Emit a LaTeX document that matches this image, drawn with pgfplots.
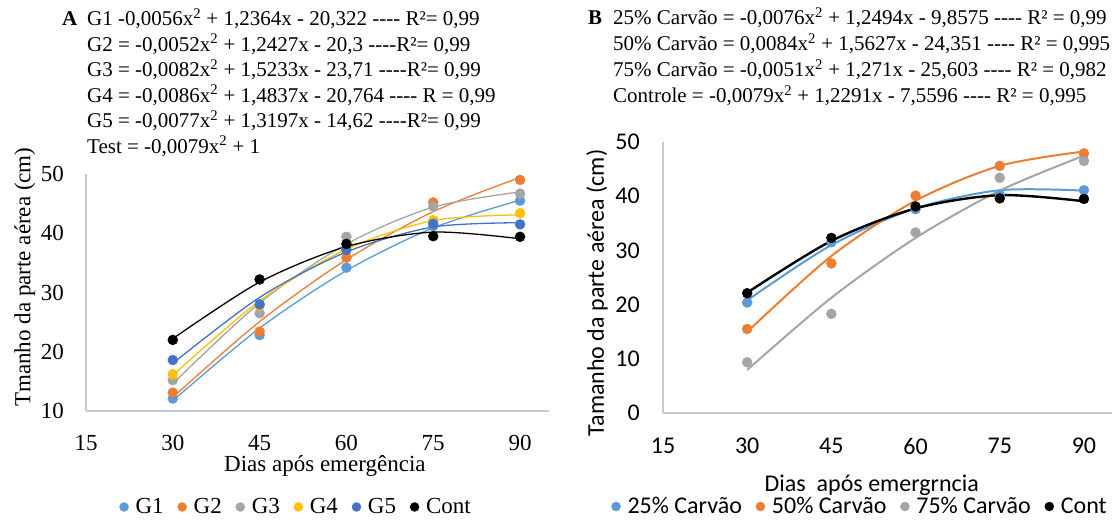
\documentclass[border=0pt]{standalone}
\usepackage{pgfplots}
\pgfplotsset{compat=1.18}
\usepackage{fontspec}
\setmainfont{Liberation Serif}
\newfontfamily\calibri{Carlito}
\definecolor{cA}{HTML}{5B9BD5}
\definecolor{cB}{HTML}{ED7D31}
\definecolor{cC}{HTML}{A5A5A5}
\definecolor{cD}{HTML}{FFC000}
\definecolor{cE}{HTML}{4472C4}
\definecolor{axc}{HTML}{C3CAD9}
\newcommand{\dd}{-{}-{}-{}-}
\newcommand{\sq}{\textsuperscript{2}}
\pgfplotsset{
  legimg/.style={legend image code/.code={\draw[##1, mark size=4.5pt] plot coordinates {(0pt,0pt)};}},
  pts/.style={only marks, mark=*, mark size=5pt, color=#1, mark options={draw=#1, fill=#1}},
  trend/.style={smooth, no marks, color=#1, line width=1.3pt, forget plot},
}
\begin{document}
\begin{tikzpicture}[x=1pt,y=1pt]
\useasboundingbox (0,0) rectangle (1119,521);
% ---------- equations A
\begin{scope}[every node/.style={anchor=base west, inner sep=0pt, font=\fontsize{21}{25}\selectfont}]
\node at (62,495) {\textbf{A}};
\node at (87,495) {G1 -0,0056x\sq{} + 1,2364x - 20,322 \dd{} R²= 0,99};
\node at (87,469.5) {G2 = -0,0052x\sq{} + 1,2427x - 20,3 \dd{}R²= 0,99};
\node at (87,444) {G3 = -0,0082x\sq{} + 1,5233x - 23,71 \dd{}R²= 0,99};
\node at (87,418.5) {G4 = -0,0086x\sq{} + 1,4837x - 20,764 \dd{} R = 0,99};
\node at (87,393) {G5 = -0,0077x\sq{} + 1,3197x - 14,62 \dd{}R²= 0,99};
\node at (87,367.5) {Test = -0,0079x\sq{} + 1};
% ---------- equations B
\node at (588,496) {\textbf{B}};
\node at (613,496) {25\% Carvão = -0,0076x\sq{} + 1,2494x - 9,8575 \dd{} R² = 0,99};
\node at (613,470) {50\% Carvão = 0,0084x\sq{} + 1,5627x - 24,351 \dd{} R² = 0,995};
\node at (613,444) {75\% Carvão = -0,0051x\sq{} + 1,271x - 25,603 \dd{} R² = 0,982};
\node at (613,418) {Controle = -0,0079x\sq{} + 1,2291x - 7,5596 \dd{} R² = 0,995};
\end{scope}
% ================= Panel A
\begin{axis}[
  at={(86pt,110pt)}, anchor=south west, scale only axis,
  width=463pt, height=237pt,
  xmin=15, xmax=95, ymin=10, ymax=50,
  xtick={15,30,45,60,75,90}, ytick={10,20,30,40,50},
  axis x line*=bottom, axis y line*=left,
  axis line style={draw=axc, line width=1.2pt},
  major tick length=0pt,
  /pgf/number format/assume math mode=true,
  tick label style={font=\fontsize{23}{27}\selectfont},
  yticklabel style={inner sep=0pt, xshift=-22pt},
  xticklabel style={inner sep=0pt, yshift=-24pt},
  xlabel={Dias após emergência},
  xlabel style={at={(axis description cs:0.516,0)}, anchor=center, yshift=-55pt, font=\fontsize{23}{27}\selectfont},
  ylabel={Tmanho da parte aérea (cm)},
  ylabel style={at={(axis description cs:-0.132,0.565)}, anchor=center, font=\fontsize{23}{27}\selectfont},
  legimg,
  legend columns=-1,
  legend style={at={(axis description cs:0.454,-0.405)}, anchor=center, draw=none, fill=none,
    font=\fontsize{23}{27}\selectfont, inner sep=0pt,
    /tikz/every odd column/.append style={column sep=5pt},
    /tikz/every even column/.append style={column sep=12pt},
    nodes={inner sep=2pt}},
  clip=false,
]
\addplot[pts=cA] coordinates {(30,12.1)(45,22.8)(60,34.2)(75,41.2)(90,45.5)};
\addlegendentry{G1}
\addplot[trend=cA] coordinates {(30,11.73)(45,23.98)(60,33.70)(75,40.91)(90,45.59)};
\addplot[pts=cB] coordinates {(30,13.1)(45,23.4)(60,35.9)(75,45.2)(90,49.0)};
\addlegendentry{G2}
\addplot[trend=cB] coordinates {(30,12.30)(45,25.09)(60,35.54)(75,43.65)(90,49.42)};
\addplot[pts=cC] coordinates {(30,15.2)(45,26.5)(60,39.4)(75,44.5)(90,46.7)};
\addlegendentry{G3}
\addplot[trend=cC] coordinates {(30,14.61)(45,28.23)(60,38.17)(75,44.41)(90,46.97)};
\addplot[pts=cD] coordinates {(30,16.2)(45,27.8)(60,37.3)(75,42.2)(90,43.4)};
\addlegendentry{G4}
\addplot[trend=cD] coordinates {(30,16.01)(45,28.59)(60,37.30)(75,42.14)(90,43.11)};
\addplot[pts=cE] coordinates {(30,18.6)(45,28.0)(60,37.2)(75,41.6)(90,41.5)};
\addlegendentry{G5}
\addplot[trend=cE] coordinates {(30,18.04)(45,29.17)(60,36.84)(75,41.05)(90,41.78)};
\addplot[pts=black] coordinates {(30,22.0)(45,32.2)(60,38.2)(75,39.5)(90,39.4)};
\addlegendentry{Cont}
\addplot[trend=black] coordinates {(30,22.20)(45,31.75)(60,37.75)(75,40.19)(90,39.07)};
\end{axis}
% ================= Panel B
\begin{axis}[
  at={(663pt,108pt)}, anchor=south west, scale only axis,
  width=449pt, height=271pt,
  xmin=15, xmax=95, ymin=0, ymax=50,
  xtick={15,30,45,60,75,90}, ytick={0,10,20,30,40,50},
  axis x line*=bottom, axis y line*=left,
  axis line style={draw=axc, line width=1.2pt},
  major tick length=0pt,
  /pgf/number format/assume math mode=true,
  tick label style={font=\calibri\fontsize{24}{28}\selectfont},
  yticklabel style={inner sep=0pt, xshift=-23pt},
  xticklabel style={inner sep=0pt, yshift=-25pt},
  xlabel={Dias \ após emergrncia},
  xlabel style={at={(axis description cs:0.465,0)}, anchor=center, yshift=-72pt, font=\calibri\fontsize{24}{28}\selectfont},
  ylabel={Tamanho da parte aérea (cm)},
  ylabel style={at={(axis description cs:-0.147,0.443)}, anchor=center, font=\calibri\fontsize{24}{28}\selectfont},
  legimg,
  legend columns=-1,
  legend style={at={(axis description cs:0.439,-0.345)}, anchor=center, draw=none, fill=none,
    font=\calibri\fontsize{24}{28}\selectfont, inner sep=0pt,
    /tikz/every odd column/.append style={column sep=5pt},
    /tikz/every even column/.append style={column sep=12pt},
    nodes={inner sep=2pt}},
  clip=false,
]
\addplot[pts=cA] coordinates {(30,20.4)(45,31.5)(60,37.6)(75,40.3)(90,41.1)};
\addlegendentry{25\% Carvão}
\addplot[trend=cA, line width=2pt] coordinates {(30,20.78)(45,30.98)(60,37.75)(75,41.10)(90,41.03)};
\addplot[pts=cB] coordinates {(30,15.5)(45,27.6)(60,40.1)(75,45.6)(90,47.9)};
\addlegendentry{50\% Carvão}
\addplot[trend=cB, line width=2pt] coordinates {(30,14.97)(45,28.96)(60,39.17)(75,45.60)(90,48.25)};
\addplot[pts=cC] coordinates {(30,9.35)(45,18.3)(60,33.3)(75,43.4)(90,46.5)};
\addlegendentry{75\% Carvão}
\addplot[trend=cC, line width=2pt] coordinates {(30,7.94)(45,21.26)(60,32.30)(75,41.03)(90,47.48)};
\addplot[pts=black] coordinates {(30,22.1)(45,32.3)(60,38.1)(75,39.6)(90,39.5)};
\addlegendentry{Cont}
\addplot[trend=black, line width=2.4pt] coordinates {(30,22.20)(45,31.75)(60,37.75)(75,40.19)(90,39.07)};
\end{axis}
\end{tikzpicture}
\end{document}
